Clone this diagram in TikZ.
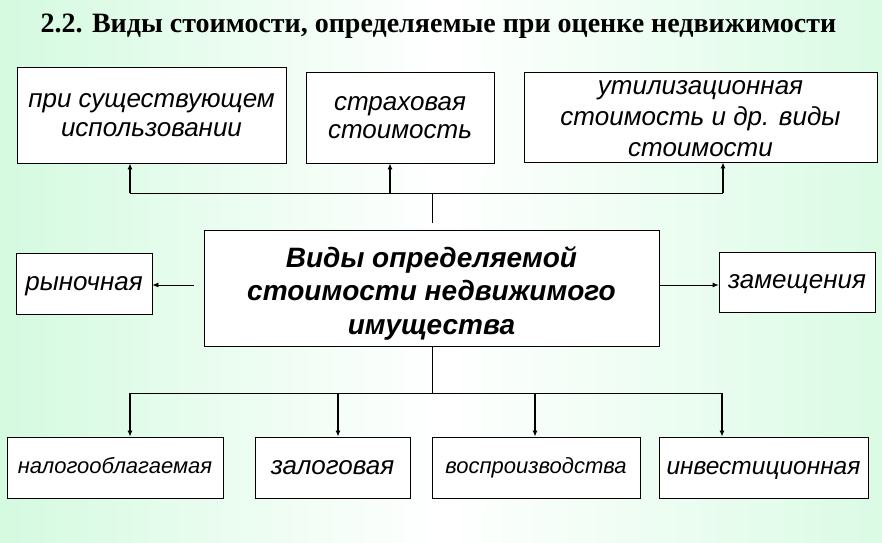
\documentclass[tikz,border=0pt]{standalone}
\usepackage{fontspec}
\setmainfont{Liberation Serif}
\setsansfont{Liberation Sans}
\usetikzlibrary{shapes,arrows,arrows.meta,positioning,calc}
\definecolor{mint}{RGB}{212,250,224}
\tikzstyle{block} = [draw, fill=white, rectangle, align=center, font=\sffamily\itshape\fontsize{26}{30}\selectfont, inner sep=2pt]
\tikzstyle{line1} = [text height=18pt, text depth=4.5pt]
\tikzstyle{small} = [font=\sffamily\itshape\fontsize{22}{25}\selectfont, text height=15pt, text depth=3.6pt]
\tikzstyle{main} = [draw, fill=white, rectangle]
\tikzstyle{maintext} = [align=center, font=\sffamily\bfseries\itshape\fontsize{28}{33.5}\selectfont]
\tikzstyle{junction} = [coordinate]

\begin{document}
\begin{tikzpicture}[x=1pt, y=-1pt, >={Latex[length=6pt,width=5pt]}, line width=0.8pt]
    % Background
    \shade[left color=mint, right color=mint!85, middle color=white] (0,0) rectangle (882,542);
    \useasboundingbox (0,0) rectangle (882,542);
    \node [anchor=west, font=\bfseries\fontsize{28}{30}\selectfont] (title) at (37,26) {2.2. Виды стоимости, определяемые при оценке недвижимости};

    % Centre
    \node [main, minimum width=455pt, minimum height=116pt] (main) at (431.5,288) {};
    \node [maintext] (mainlabel) at ([yshift=-5pt]main.center) {Виды определяемой\\стоимости недвижимого\\имущества};

    % Upper row
    \node [block, font=\sffamily\itshape\fontsize{26}{28.5}\selectfont, minimum width=269pt, minimum height=96pt] (existing) at (151.5,115) {при существующем\\использовании};
    \node [block, font=\sffamily\itshape\fontsize{26}{28}\selectfont, minimum width=188pt, minimum height=91pt] (insurance) at (400,117.5) {страховая\\стоимость};
    \node [block, minimum width=353pt, minimum height=90pt] (salvage) at (700.5,117) {};
    \node [align=center, font=\sffamily\itshape\fontsize{26}{31}\selectfont] (salvagelabel) at ([yshift=-1.5pt]salvage.center) {утилизационная\\стоимость и др. виды\\стоимости};

    % Sides
    \node [block, line1, minimum width=136pt, minimum height=61pt] (market) at (84,283.5) {рыночная};
    \node [block, line1, minimum width=156pt, minimum height=60pt] (replacement) at (797,282) {замещения};

    % Lower row
    \node [block, small, minimum width=216pt, minimum height=61pt] (taxable) at (115,467.5) {налогооблагаемая};
    \node [block, line1, minimum width=155pt, minimum height=61pt] (pledge) at (332.5,467.5) {залоговая};
    \node [block, small, minimum width=208pt, minimum height=61pt] (reproduction) at (536,467.5) {воспроизводства};
    \node [block, line1, font=\sffamily\itshape\fontsize{24.5}{28}\selectfont, minimum width=209pt, minimum height=61pt] (investment) at (763.5,467.5) {инвестиционная};

    % Bus points
    \node [junction] (topbus) at (432,193) {};
    \node [junction] (topleft) at (130,193) {};
    \node [junction] (topmid) at (390,193) {};
    \node [junction] (topright) at (723,193) {};
    \node [junction] (lowbus) at (432,393) {};
    \node [junction] (lowleft) at (130,393) {};
    \node [junction] (lowmid) at (338,393) {};
    \node [junction] (lowmid2) at (535,393) {};
    \node [junction] (lowright) at (722,393) {};

    % Connections
    \draw [shorten <=7pt] (main.north -| topbus) -- (topbus);
    \draw (topleft) -- (topright);
    \draw [->, line width=1.3pt] (topleft) -- (topleft |- existing.south);
    \draw [->, line width=1.3pt] (topmid) -- (topmid |- insurance.south);
    \draw [->, line width=1.3pt] (topright) -- (topright |- salvage.south);
    \draw [->, shorten <=10pt] (main.west |- 0,285) -- (market.east |- 0,285);
    \draw [->] (main.east |- 0,285) -- (replacement.west |- 0,285);
    \draw (main.south -| lowbus) -- (lowbus);
    \draw (lowleft) -- (lowright);
    \draw [->, line width=1.3pt] (lowleft) -- (lowleft |- taxable.north);
    \draw [->, line width=1.3pt] (lowmid) -- (lowmid |- pledge.north);
    \draw [->, line width=1.3pt] (lowmid2) -- (lowmid2 |- reproduction.north);
    \draw [->, line width=1.3pt] (lowright) -- (lowright |- investment.north);
\end{tikzpicture}
\end{document}
